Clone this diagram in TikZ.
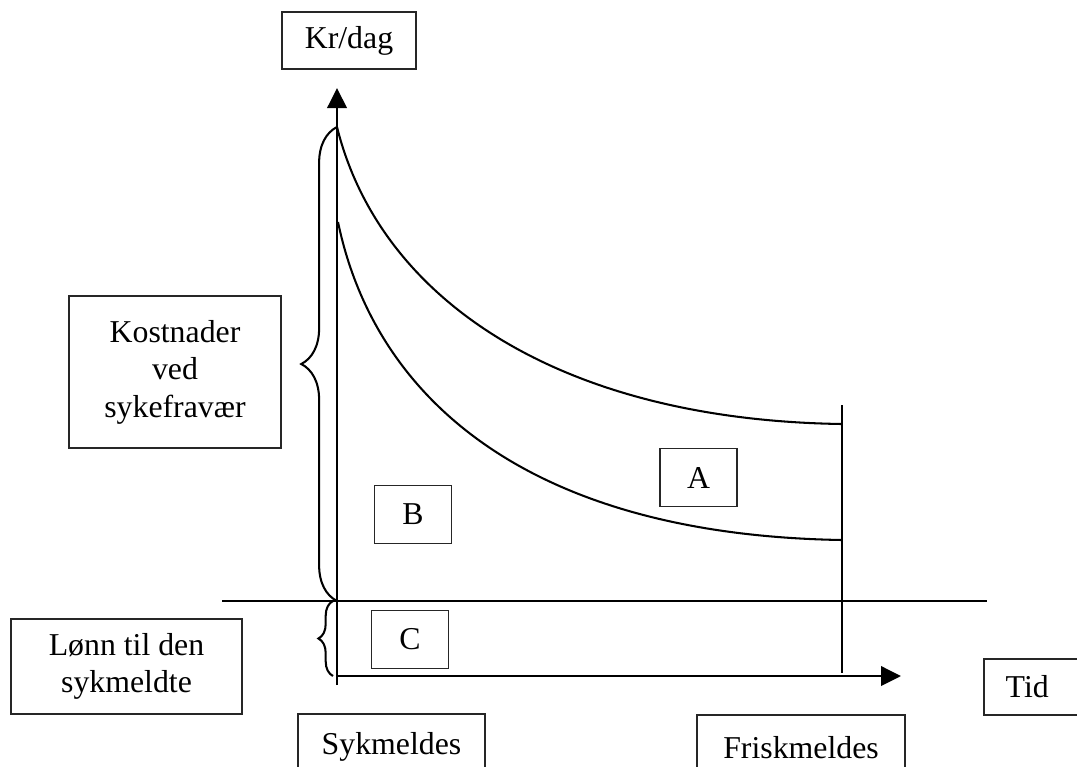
\documentclass[tikz,border=0pt]{standalone}
\usepackage{fontspec}
\setmainfont{Liberation Serif}
\usetikzlibrary{arrows.meta,decorations.pathreplacing}

\begin{document}
\begin{tikzpicture}[x=0.0137cm,y=0.0137cm,font=\fontsize{12.4}{14.6}\selectfont,
    bx/.style={draw=black!85,line width=0.6pt,align=center,inner sep=2pt},
    lt/.style={bx,minimum width=1.05cm,minimum height=0.79cm},
    ln/.style={line width=0.8pt},
    ax/.style={ln,-{Triangle[length=7.8pt,width=7.6pt]}},
    brc/.style={ln,decorate,decoration={brace,amplitude=#1}}]
  \clip (0,-766) rectangle (1077,0);

  % points on the axes
  \coordinate (o)  at (337,-676);
  \coordinate (ob) at (337,-685);
  \coordinate (yt) at (337,-88);
  \coordinate (xt) at (901,-676);
  \coordinate (s0) at (222,-601);
  \coordinate (s1) at (987,-601);
  \coordinate (f0) at (842,-405);
  \coordinate (f1) at (842,-673);
  \coordinate (u0) at (337,-127);
  \coordinate (u1) at (842,-424);
  \coordinate (l0) at (338,-222);
  \coordinate (l1) at (842,-540);
  \coordinate (b0) at (337,-601);
  \coordinate (c0) at (333,-676);
  \coordinate (c1) at (333,-601);

  \node[bx,minimum width=1.836cm,minimum height=0.781cm] (kr) at (349,-40.5) {Kr/dag};
  \node[bx,minimum width=2.904cm,minimum height=2.082cm] (kost) at (175,-372)
    {Kostnader\\ved\\sykefravær};
  \node[bx,minimum width=3.165cm,minimum height=1.302cm] (lonn) at (126.5,-666.5)
    {Lønn til den\\sykmeldte};
  \node[bx,minimum width=2.562cm,minimum height=0.904cm] (syk) at (391.5,-747) {Sykmeldes};
  \node[bx,minimum width=2.85cm,minimum height=0.904cm] (frisk) at (801,-748) {Friskmeldes};
  \node[bx,anchor=west,align=left,text width=1.0cm,inner xsep=0.3cm,
    minimum height=0.767cm] (tid) at (983,-687) {Tid};

  \node[lt] (a) at (698.5,-477.5) {A};
  \node[lt] (b) at (413,-514.5) {B};
  \node[lt] (c) at (410,-639.5) {C};

  \draw[ax] (ob) -- (yt);
  \draw[ax] (o) -- (xt);
  \draw[ln] (s0) -- (s1);
  \draw[ln] (f0) -- (f1);
  \draw[ln] (u0) .. controls (380,-300) and (560,-420) .. (u1);
  \draw[ln] (l0) .. controls (375,-400) and (530,-535) .. (l1);

  \draw[brc=0.49cm] (b0) -- (u0);
  \draw[brc=0.2cm] (c0) -- (c1);
\end{tikzpicture}
\end{document}
